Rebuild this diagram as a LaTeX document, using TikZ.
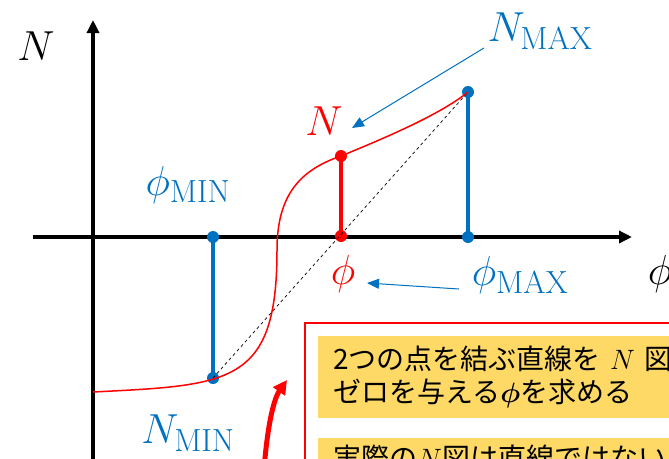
\RequirePackage{fix-cm}
\documentclass[tikz,border=0pt]{standalone}
\usepackage{amsmath}
\usepackage{fontspec}
\newfontfamily\jpfont{Noto Sans CJK JP}
\usetikzlibrary{arrows.meta}
\definecolor{phiblue}{HTML}{0070C0}
\definecolor{notered}{HTML}{FF0000}
\definecolor{noteyellow}{HTML}{FFD966}
\newcommand{\subtag}[1]{\mbox{\fontsize{32}{36}\selectfont #1}}
\tikzset{
  axisline/.style={line width=4pt,-{Triangle[length=13pt,width=12pt]}},
  bluebar/.style={draw=phiblue,line width=4pt},
  redbar/.style={draw=notered,line width=4pt},
  dotmark/.style={circle,inner sep=0pt,minimum size=12pt},
  biglabel/.style={inner sep=0pt,font=\fontsize{42}{48}\selectfont},
  thinarrow/.style={draw=phiblue,line width=1pt,-{Triangle[length=12pt,width=10pt]}},
  notebox/.style={
    fill=noteyellow,
    anchor=north west,
    text width=370pt,
    minimum height=82pt,
    inner xsep=15pt,
    inner ysep=0pt,
    align=left,
    font=\jpfont\fontsize{28}{33}\selectfont
  }
}

\begin{document}
\begin{tikzpicture}[x=1pt,y=-1pt]
\useasboundingbox (0,0) rectangle (669,458);
\coordinate (xstart) at (33,237);
\coordinate (xend) at (632,237);
\coordinate (ystart) at (93,470);
\coordinate (yend) at (93,20);
\draw[axisline] (xstart) -- (xend);
\draw[axisline] (ystart) -- (yend);
\node[biglabel] (ylabel) at (36,46) {$N$};
\node[biglabel] (xlabel) at (660,274) {$\phi$};

\node[dotmark,fill=phiblue] (phimin) at (213,237) {};
\node[dotmark,fill=phiblue] (nmin) at (213,378) {};
\node[dotmark,fill=phiblue] (phimax) at (468,237) {};
\node[dotmark,fill=phiblue] (nmax) at (468,92) {};
\node[dotmark,fill=notered] (phimid) at (341,236) {};
\node[dotmark,fill=notered] (nmid) at (341,156) {};
\draw[bluebar] (phimin.center) -- (nmin.center);
\draw[bluebar] (phimax.center) -- (nmax.center);
\draw[redbar] (phimid.center) -- (nmid.center);

\draw[dashed,dash pattern=on 3pt off 3pt,line width=0.7pt] (nmin.center) -- (nmax.center);
\draw[notered,line width=1.5pt] (93,392) .. controls (230,385) and (277,385) .. (277,250)
  .. controls (277,195) and (300,170) .. (nmid.center)
  .. controls (380,140) and (440,115) .. (nmax.center);

\node[biglabel,text=phiblue] (phiminlabel) at (188,185) {$\phi_{\subtag{MIN}}$};
\node[biglabel,text=phiblue] (nminlabel) at (188,433) {$N_{\subtag{MIN}}$};
\node[biglabel,text=phiblue] (phimaxlabel) at (520,275) {$\phi_{\subtag{MAX}}$};
\node[biglabel,text=phiblue] (nmaxlabel) at (540,31) {$N_{\subtag{MAX}}$};
\node[biglabel,text=notered] (phimidlabel) at (343,274) {$\phi$};
\node[biglabel,text=notered] (nmidlabel) at (324,121) {$N$};

\coordinate (nmaxtail) at (484,48);
\coordinate (nmidtip) at (352,128);
\coordinate (phimaxtail) at (459,289);
\coordinate (phimidtip) at (367,283);
\draw[thinarrow] (nmaxtail) -- (nmidtip);
\draw[thinarrow] (phimaxtail) -- (phimidtip);

\draw[notered,line width=1.5pt] (305,323) rectangle (720,520);
\node[notebox] (note1) at (318,336) {2つの点を結ぶ直線を $N$ 図\\ゼロを与える$\boldsymbol{\phi}$を求める};
\node[notebox,minimum height=40pt] (note2) at (318,438) {実際の$N$図は直線ではない};

\coordinate (hinttail) at (264,470);
\coordinate (hinttip) at (287,380);
\draw[notered,line width=5pt,-{Triangle[length=14pt,width=14pt]}] (hinttail) .. controls (267,430) and (273,400) .. (hinttip);
\end{tikzpicture}
\end{document}
